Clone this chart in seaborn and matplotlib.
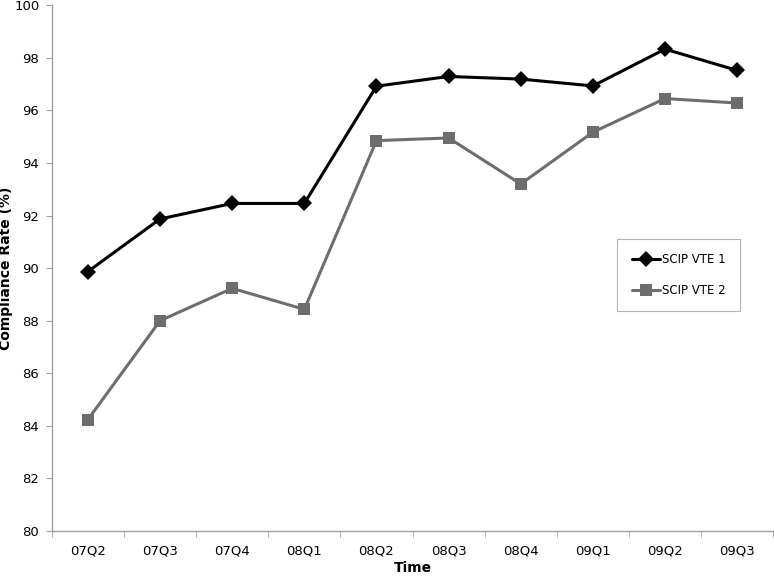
#!/usr/bin/env python3

import seaborn as sns
import pandas as pd
import matplotlib.pyplot as plt
from matplotlib.ticker import FixedLocator

quarters = ["07Q2", "07Q3", "07Q4", "08Q1", "08Q2", "08Q3", "08Q4", "09Q1", "09Q2", "09Q3"]
vte1 = [89.87, 91.87, 92.46, 92.46, 96.92, 97.29, 97.19, 96.93, 98.33, 97.52]
vte2 = [84.24, 88.00, 89.23, 88.43, 94.85, 94.95, 93.20, 95.17, 96.45, 96.28]
series_names = ["SCIP VTE 1", "SCIP VTE 2"]


def create_chart(outputfig):
    data = pd.DataFrame({
        "Time": list(range(len(quarters))) * 2,
        "Rate": vte1 + vte2,
        "Series": [series_names[0]] * len(vte1) + [series_names[1]] * len(vte2),
    })

    sns.set_style("white", {"text.color": "black", "axes.labelcolor": "black",
                            "xtick.color": "black", "ytick.color": "black"})
    plt.rcParams['font.family'] = ['DejaVu Sans']

    fig = plt.figure(figsize=(7.74, 5.8), dpi=100)
    ax = fig.add_axes([0.067, 0.0845, 0.932, 0.9065])

    sns.lineplot(data=data, x="Time", y="Rate", hue="Series", style="Series",
                 palette={series_names[0]: "#000000", series_names[1]: "#6d6d6d"},
                 markers={series_names[0]: "D", series_names[1]: "s"},
                 dashes=False, markersize=8, linewidth=2.2, markeredgewidth=0,
                 ax=ax)

    ax.set_xlim(-0.5, len(quarters) - 0.5)
    ax.set_ylim(80, 100)
    ax.set_yticks(range(80, 101, 2))
    ax.set_xticks(range(len(quarters)))
    ax.set_xticklabels(quarters)
    ax.xaxis.set_minor_locator(FixedLocator([i - 0.5 for i in range(len(quarters) + 1)]))
    ax.tick_params(axis="x", which="major", length=0, pad=10, labelsize=9.5)
    ax.tick_params(axis="x", which="minor", length=4, color="#a0a0a0", bottom=True)
    ax.tick_params(axis="y", length=4, color="#a0a0a0", left=True, labelsize=9.5, pad=5)

    for side in ["top", "right"]:
        ax.spines[side].set_visible(False)
    for side in ["left", "bottom"]:
        ax.spines[side].set_color("#a0a0a0")
        ax.spines[side].set_linewidth(1.0)

    ax.set_xlabel("Time", fontweight="bold", fontsize=10, labelpad=2)
    ax.set_ylabel("Compliance Rate (%)", fontweight="bold", fontsize=10, labelpad=1)

    leg = ax.legend(loc="center left", bbox_to_anchor=(0.79, 0.526),
                    bbox_transform=fig.transFigure, fontsize=8.5,
                    frameon=True, fancybox=False, edgecolor="#a0a0a0",
                    borderpad=1.2, labelspacing=1.5, handlelength=2.4,
                    handletextpad=0.2)
    leg.get_frame().set_linewidth(0.8)

    plt.savefig(outputfig, dpi=100)
    plt.close()


def main():
    create_chart("out.png")


if __name__ == '__main__':
    main()
